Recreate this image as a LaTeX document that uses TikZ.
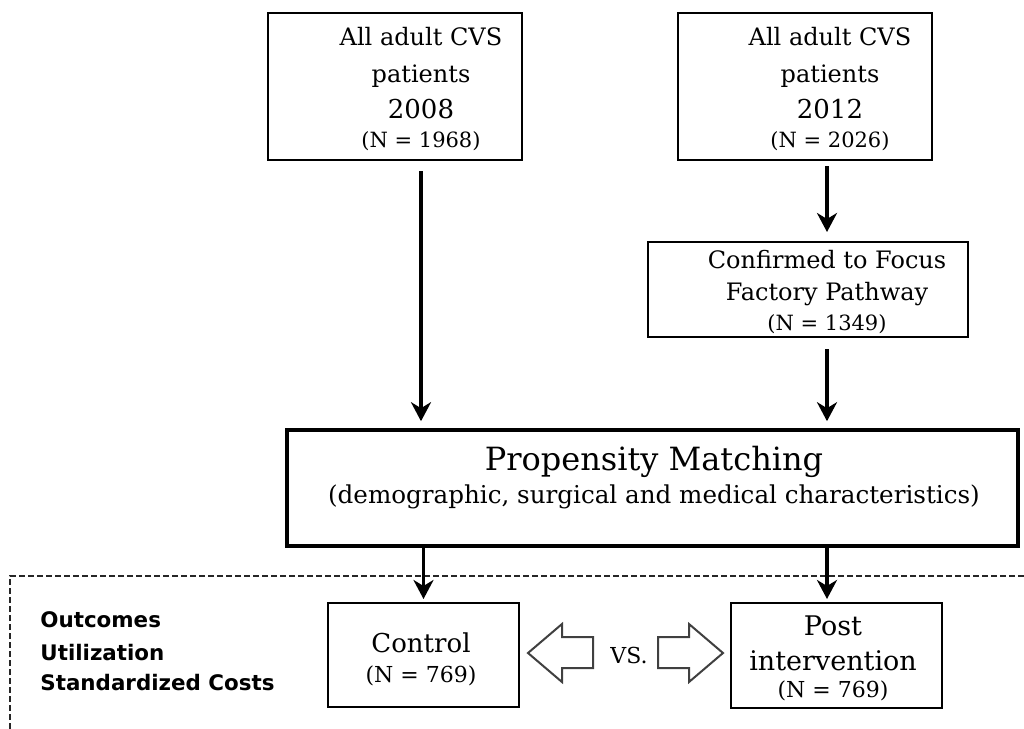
\documentclass[tikz,border=0pt]{standalone}
\usepackage{fontspec}
\setmainfont{DejaVu Serif}
\newfontfamily\outcomefont{DejaVu Sans}
\usepackage{tikz}
\usetikzlibrary{arrows.meta,positioning,calc}

\begin{document}
\begin{tikzpicture}[x=0.5pt, y=-0.5pt,
    box/.style={draw, line width=1pt, inner sep=0pt},
    txt/.style={anchor=base, inner sep=0pt},
    arr/.style={-{Stealth[length=9.5pt, width=10pt, inset=3pt]}, line width=1.7pt},
    hollow/.style={draw=black!75, line width=1pt, fill=white, line join=miter}]
  \useasboundingbox (0,0) rectangle (1024,729);

  % Cohort boxes
  \node[box, minimum width=127pt, minimum height=73.5pt] (all08) at (395, 86.5) {};
  \node[txt, font=\fontsize{12}{14}\selectfont] (all08a) at (421, 45) {All adult CVS};
  \node[txt, font=\fontsize{12}{14}\selectfont] (all08b) at (421, 82) {patients};
  \node[txt, font=\fontsize{13}{15}\selectfont] (all08c) at (421, 118) {2008};
  \node[txt, font=\fontsize{10.5}{12}\selectfont] (all08n) at (421, 147) {(N = 1968)};

  \node[box, minimum width=127pt, minimum height=73.5pt] (all12) at (805, 86.5) {};
  \node[txt, font=\fontsize{12}{14}\selectfont] (all12a) at (830, 45) {All adult CVS};
  \node[txt, font=\fontsize{12}{14}\selectfont] (all12b) at (830, 82) {patients};
  \node[txt, font=\fontsize{13}{15}\selectfont] (all12c) at (830, 118) {2012};
  \node[txt, font=\fontsize{10.5}{12}\selectfont] (all12n) at (830, 147) {(N = 2026)};

  % Pathway box
  \node[box, minimum width=160pt, minimum height=47.5pt] (conf) at (808, 289.5) {};
  \node[txt, font=\fontsize{12}{14}\selectfont] (confa) at (827, 268) {Confirmed to Focus};
  \node[txt, font=\fontsize{12}{14}\selectfont] (confb) at (827, 300) {Factory Pathway};
  \node[txt, font=\fontsize{10.5}{12}\selectfont] (confn) at (827, 330) {(N = 1349)};

  % Matching
  \node[draw, line width=1.8pt, inner sep=0pt, minimum width=365.5pt, minimum height=58pt] (pm) at (652.5, 488) {};
  \node[txt, font=\fontsize{16}{19}\selectfont] (pma) at (654, 470) {Propensity Matching};
  \node[txt, font=\fontsize{12.3}{14}\selectfont] (pmb) at (654, 503) {(demographic, surgical and medical characteristics)};

  % Matched groups
  \draw[dash pattern=on 3pt off 1.5pt, line width=0.8pt, black!85] (1024,576) -- (10,576) -- (10,729);

  \node[box, minimum width=95.5pt, minimum height=52pt] (ctl) at (423.5, 655) {};
  \node[txt, font=\fontsize{13}{15}\selectfont] (ctla) at (421, 652) {Control};
  \node[txt, font=\fontsize{11}{13}\selectfont] (ctln) at (421, 682) {(N = 769)};

  \node[box, minimum width=105.5pt, minimum height=52.5pt] (post) at (836.5, 655.5) {};
  \node[txt, font=\fontsize{13.5}{16}\selectfont] (posta) at (833, 635) {Post};
  \node[txt, font=\fontsize{13.5}{16}\selectfont] (postb) at (833, 670) {intervention};
  \node[txt, font=\fontsize{11}{13}\selectfont] (postn) at (833, 697) {(N = 769)};

  \draw[hollow] (528,653) -- (562,624) -- (562,637) -- (593,637) -- (593,668) -- (562,668) -- (562,682) -- cycle;
  \draw[hollow] (723,653) -- (689,624) -- (689,637) -- (658,637) -- (658,668) -- (689,668) -- (689,682) -- cycle;
  \node[txt, font=\fontsize{11}{13}\selectfont] (vs) at (629, 663) {VS.};

  \foreach \name/\yy/\lbl in {outc/627/Outcomes, util/660/Utilization, cost/690/Standardized Costs}
    \node[txt, anchor=base west, font=\outcomefont\bfseries\fontsize{10.7}{12}\selectfont] (\name) at (40, \yy) {\lbl};

  % Arrows
  \draw[arr, shorten <=5pt, shorten >=3.5pt] (all08.south -| all08a) -- (pm.north -| all08a);
  \draw[arr, shorten <=2.5pt, shorten >=4.5pt] (all12.south -| confa) -- (conf.north -| confa);
  \draw[arr, shorten <=5.5pt, shorten >=3.5pt] (conf.south -| confa) -- (pm.north -| confa);
  \draw[arr, shorten >=1.5pt] (pm.south -| ctl) -- (ctl.north);
  \draw[arr, shorten >=1.5pt] (pm.south -| confa) -- (post.north -| confa);
\end{tikzpicture}
\end{document}
